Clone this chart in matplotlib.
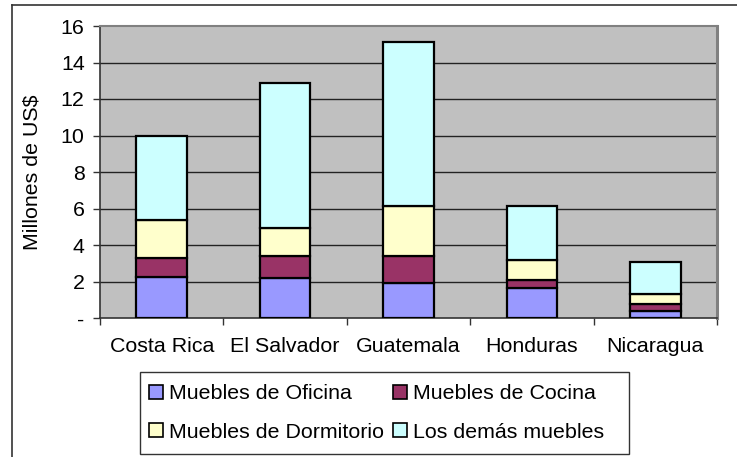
import numpy as np
import matplotlib.pyplot as plt
from matplotlib.lines import Line2D
from matplotlib.patches import Rectangle

plt.rcParams['font.family'] = ['Liberation Sans', 'DejaVu Sans']

countries = ['Costa Rica', 'El Salvador', 'Guatemala', 'Honduras', 'Nicaragua']
oficina = [2.25, 2.19, 1.94, 1.63, 0.40]
cocina = [1.04, 1.21, 1.46, 0.45, 0.35]
dormitorio = [2.08, 1.53, 2.74, 1.10, 0.55]
demas = [4.60, 7.93, 8.98, 2.96, 1.75]

series = ['Muebles de Oficina', 'Muebles de Cocina',
          'Muebles de Dormitorio', 'Los demás muebles']
colors = ['#9999FF', '#993366', '#FFFFCC', '#CCFFFF']
yticks = [0, 2, 4, 6, 8, 10, 12, 14, 16]
ytick_labels = ['-', '2', '4', '6', '8', '10', '12', '14', '16']

FS = 15.4
W, H = 737, 457

fig = plt.figure(figsize=(W / 100, H / 100), dpi=100)
ax = fig.add_axes([100 / W, 1 - 318 / H, 617 / W, 292 / H])
ax.set_facecolor('#C0C0C0')

x = np.arange(len(countries))
bottom = np.zeros(len(countries))
handles = []
for name, vals, c in zip(series, [oficina, cocina, dormitorio, demas], colors):
    ax.bar(x, vals, width=0.41, bottom=bottom, color=c, edgecolor='black',
           linewidth=1.6, zorder=3)
    bottom += np.array(vals)
    handles.append(plt.Rectangle((0, 0), 1, 1, facecolor=c, edgecolor='black', linewidth=1.2))

ax.set_xlim(-0.5, len(countries) - 0.5)
ax.set_ylim(0, 16)
ax.set_yticks(yticks)
ax.set_yticklabels(ytick_labels, fontsize=FS)
ax.set_xticks(x)
ax.set_xticklabels(countries, fontsize=FS)
ax.tick_params(axis='x', length=0, pad=14)
ax.set_xticks(np.arange(-0.5, len(countries)), minor=True)
ax.tick_params(axis='x', which='minor', length=5, direction='out', width=1, color='#333333')
ax.tick_params(axis='y', length=5, direction='out', width=1, color='#333333', pad=6)

for yv in yticks[1:-1]:
    ax.axhline(yv, color='#222222', linewidth=1, zorder=1)

for side in ['top', 'right']:
    ax.spines[side].set_color('#808080')
    ax.spines[side].set_linewidth(1.5)
ax.spines['right'].set_linewidth(2.2)
for side in ['left', 'bottom']:
    ax.spines[side].set_color('#333333')
    ax.spines[side].set_linewidth(1.2)

ax.set_ylabel('Millones de US$', fontsize=FS, labelpad=14)

# legend filled row by row like the original, box drawn separately
order = [0, 2, 1, 3]
leg = fig.legend([handles[i] for i in order], [series[i] for i in order],
                 loc='upper left', ncol=2,
                 bbox_to_anchor=(143 / W, 1 - 378 / H),
                 fontsize=FS, frameon=False,
                 handlelength=0.65, handleheight=0.65, handletextpad=0.25,
                 columnspacing=0.45, borderpad=0.3, labelspacing=0.9,
                 borderaxespad=0)
fig.add_artist(Rectangle((140 / W, 1 - 454 / H), 489 / W, 82 / H,
                         transform=fig.transFigure, fill=False,
                         edgecolor='#333333', linewidth=1))

# outer frame (top and left only)
fig.add_artist(Line2D([12 / W, 1], [1 - 5 / H, 1 - 5 / H], color='#333333', linewidth=1.2))
fig.add_artist(Line2D([12 / W, 12 / W], [0, 1 - 5 / H], color='#333333', linewidth=1.2))

fig.savefig('out.png', dpi=100)
